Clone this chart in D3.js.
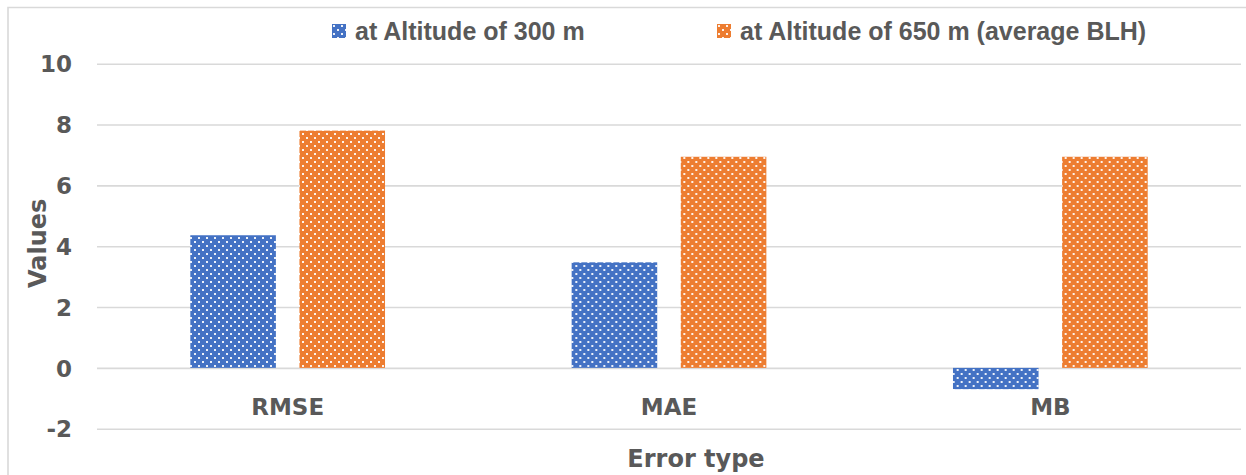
<!DOCTYPE html>
<html>
<head>
<meta charset="utf-8">
<script src="https://cdn.jsdelivr.net/npm/d3@7"></script>
<style>
  html, body { margin: 0; padding: 0; background: #fff; }
  svg { display: block; }
</style>
</head>
<body>
<svg id="chart" width="1246" height="475"></svg>
<script>
const categories = ["RMSE", "MAE", "MB"];
const seriesNames = ["at Altitude of 300 m", "at Altitude of 650 m (average BLH)"];
const values300 = [4.36, 3.47, -0.70];
const values650 = [7.80, 6.94, 6.94];
const yTicks = [-2, 0, 2, 4, 6, 8, 10];
const colors = ["#4472C4", "#ED7D31"];

const svg = d3.select("#chart");
const W = 1246, H = 475;
const plot = { left: 97, right: 1241, top: 63.7, bottom: 428.7 };
const textColor = "#595959";
const gridColor = "#d9d9d9";
const axisFont = "'DejaVu Sans', sans-serif";
const legendFont = "'Liberation Sans', Arial, sans-serif";

// patterns: white dots on colored background
const defs = svg.append("defs");
colors.forEach((c, i) => {
  const p = defs.append("pattern")
    .attr("id", "dots" + i)
    .attr("patternUnits", "userSpaceOnUse")
    .attr("width", 8).attr("height", 8);
  p.append("rect").attr("width", 8).attr("height", 8).attr("fill", c);
  p.append("rect").attr("x", 1).attr("y", 1).attr("width", 2).attr("height", 2).attr("fill", "#fff").attr("opacity", 0.9);
  p.append("rect").attr("x", 5).attr("y", 5).attr("width", 2).attr("height", 2).attr("fill", "#fff").attr("opacity", 0.9);
});

// chart frame (left + top border)
svg.append("path")
  .attr("d", `M8,${H} L8,7.5 L${W},7.5`)
  .attr("fill", "none").attr("stroke", gridColor).attr("stroke-width", 1.6);

const y = d3.scaleLinear().domain([-2, 10]).range([plot.bottom, plot.top]);
const x0 = d3.scaleBand().domain(categories).range([plot.left, plot.right]).paddingInner(0).paddingOuter(0);
const x1 = d3.scaleBand().domain([0, 1]).range([0, x0.bandwidth()]).paddingInner(0.216).paddingOuter(0.855);

// gridlines + y tick labels
const yAxis = svg.append("g")
  .attr("transform", `translate(${plot.left},0)`)
  .call(d3.axisLeft(y).tickValues(yTicks).tickSize(-(plot.right - plot.left)).tickPadding(25).tickFormat(d => String(d)));
yAxis.select(".domain").remove();
yAxis.selectAll(".tick line").attr("stroke", gridColor).attr("stroke-width", 1.6);
yAxis.selectAll(".tick text")
  .attr("fill", textColor)
  .attr("font-family", axisFont).attr("font-weight", "bold").attr("font-size", 23)
  .attr("dy", "0.36em");

// bars
const data = categories.map((c, i) => ({ cat: c, vals: [values300[i], values650[i]] }));
const groups = svg.append("g").selectAll("g").data(data).join("g")
  .attr("transform", d => `translate(${x0(d.cat)},0)`);
groups.selectAll("rect").data(d => d.vals.map((v, s) => ({ v, s }))).join("rect")
  .attr("x", d => x1(d.s))
  .attr("width", x1.bandwidth())
  .attr("y", d => y(Math.max(0, d.v)))
  .attr("height", d => Math.abs(y(d.v) - y(0)))
  .attr("fill", d => `url(#dots${d.s})`);

// category axis at zero
const xAxis = svg.append("g")
  .attr("transform", `translate(0,${y(0)})`)
  .call(d3.axisBottom(x0).tickSize(0).tickPadding(30.5));
xAxis.select(".domain").remove();
xAxis.selectAll(".tick text")
  .attr("fill", textColor)
  .attr("font-family", axisFont).attr("font-weight", "bold").attr("font-size", 23);

// axis titles
svg.append("text")
  .attr("x", 696).attr("y", 466.5)
  .attr("text-anchor", "middle")
  .attr("fill", textColor)
  .attr("font-family", axisFont).attr("font-weight", "bold").attr("font-size", 24)
  .text("Error type");

svg.append("text")
  .attr("transform", "translate(46,243.3) rotate(-90)")
  .attr("text-anchor", "middle")
  .attr("fill", textColor)
  .attr("font-family", axisFont).attr("font-weight", "bold").attr("font-size", 24)
  .text("Values");

// legend
const legendX = [332, 717];
const legend = svg.append("g");
seriesNames.forEach((name, i) => {
  const g = legend.append("g").attr("transform", `translate(${legendX[i]},0)`);
  g.append("rect").attr("x", 0).attr("y", 24).attr("width", 14).attr("height", 14)
    .attr("fill", `url(#dots${i})`);
  g.append("text").attr("x", 23).attr("y", 40)
    .attr("fill", textColor)
    .attr("font-family", legendFont).attr("font-weight", "bold").attr("font-size", 25)
    .text(name);
});
</script>
</body>
</html>
